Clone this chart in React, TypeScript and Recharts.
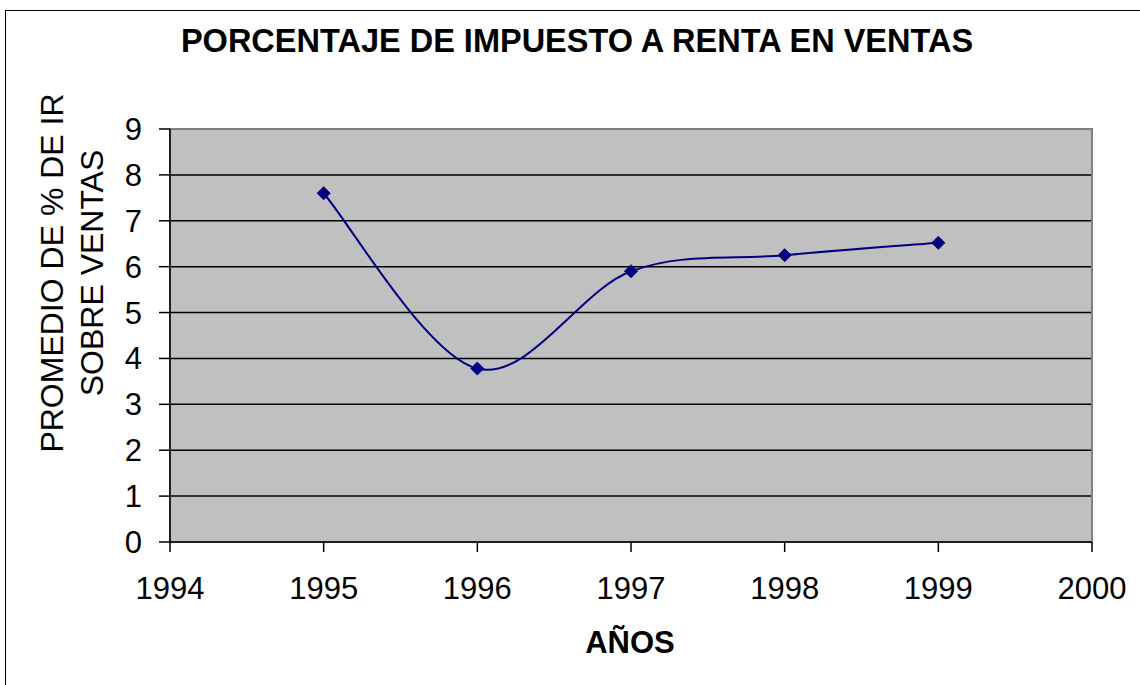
import {
  CartesianGrid,
  Line,
  LineChart,
  ReferenceArea,
  XAxis,
  YAxis,
} from 'recharts'

const YEARS = [1995, 1996, 1997, 1998, 1999]
const PERCENT_IR = [7.6, 3.78, 5.9, 6.25, 6.52]
const X_TICKS = [1994, 1995, 1996, 1997, 1998, 1999, 2000]
const Y_TICKS = [0, 1, 2, 3, 4, 5, 6, 7, 8, 9]
const GRID_VALUES = [1, 2, 3, 4, 5, 6, 7, 8]

const data = YEARS.map((year, i) => ({ year, value: PERCENT_IR[i] }))

const FONT = '"Liberation Sans", Arial, sans-serif'
const NAVY = '#000080'

// Excel-like smoothed line: cubic bezier through every point (Catmull-Rom tangents)
function excelSmooth(context: any) {
  let pts: [number, number][] = []
  return {
    areaStart() {},
    areaEnd() {},
    lineStart() {
      pts = []
    },
    point(x: number, y: number) {
      pts.push([+x, +y])
    },
    lineEnd() {
      if (!pts.length) return
      context.moveTo(pts[0][0], pts[0][1])
      for (let i = 0; i < pts.length - 1; i++) {
        const p0 = pts[i - 1] || pts[i]
        const p1 = pts[i]
        const p2 = pts[i + 1]
        const p3 = pts[i + 2] || p2
        context.bezierCurveTo(
          p1[0] + (p2[0] - p0[0]) / 6,
          p1[1] + (p2[1] - p0[1]) / 6,
          p2[0] - (p3[0] - p1[0]) / 6,
          p2[1] - (p3[1] - p1[1]) / 6,
          p2[0],
          p2[1],
        )
      }
    },
  }
}

function Diamond(props: any) {
  const { cx, cy, index } = props
  const r = 6.5
  return (
    <path
      key={`dot-${index}`}
      d={`M${cx},${cy - r}L${cx + r},${cy}L${cx},${cy + r}L${cx - r},${cy}Z`}
      fill={NAVY}
      stroke={NAVY}
    />
  )
}

export default function App() {
  const tick = { fontSize: 31, fill: '#000', fontFamily: FONT }
  return (
    <div
      style={{
        position: 'absolute',
        left: 0,
        top: 0,
        width: 1140,
        height: 685,
        overflow: 'hidden',
        background: '#fff',
      }}
    >
      <div
        style={{
          position: 'absolute',
          left: 5,
          top: 10,
          width: 1300,
          height: 900,
          border: '1px solid #000',
        }}
      />
      <div style={{ position: 'absolute', left: 0, top: 0 }}>
        <LineChart
          width={1140}
          height={685}
          data={data}
          margin={{ top: 129, right: 48, left: 90, bottom: 63 }}
        >
          <CartesianGrid
            vertical={false}
            horizontalValues={GRID_VALUES}
            stroke="#000"
            strokeWidth={1.5}
            fill="#C0C0C0"
            fillOpacity={1}
          />
          <ReferenceArea
            x1={1994}
            x2={2000}
            y1={0}
            y2={9}
            fill="none"
            stroke="#808080"
            strokeWidth={2}
          />
          <XAxis
            dataKey="year"
            type="number"
            domain={[1994, 2000]}
            ticks={X_TICKS}
            interval={0}
            height={80}
            tickSize={10}
            tickMargin={25}
            stroke="#000"
            strokeWidth={1.5}
            tick={tick}
          />
          <YAxis
            type="number"
            domain={[0, 9]}
            ticks={Y_TICKS}
            interval={0}
            width={80}
            tickSize={11}
            tickMargin={17}
            stroke="#000"
            strokeWidth={1.5}
            tick={tick}
          />
          <Line
            dataKey="value"
            type={excelSmooth as any}
            stroke={NAVY}
            strokeWidth={2}
            dot={Diamond}
            activeDot={false}
            isAnimationActive={false}
          />
        </LineChart>
      </div>
      <svg
        width={1140}
        height={685}
        style={{ position: 'absolute', left: 0, top: 0, pointerEvents: 'none' }}
      >
        <text
          x={577}
          y={52}
          textAnchor="middle"
          fontFamily={FONT}
          fontWeight="bold"
          fontSize={32.5}
        >
          PORCENTAJE DE IMPUESTO A RENTA EN VENTAS
        </text>
        <text
          x={630}
          y={653}
          textAnchor="middle"
          fontFamily={FONT}
          fontWeight="bold"
          fontSize={31}
        >
          AÑOS
        </text>
        <text
          transform="translate(63,273) rotate(-90)"
          textAnchor="middle"
          fontFamily={FONT}
          fontSize={32}
        >
          PROMEDIO DE % DE IR
        </text>
        <text
          transform="translate(103,273) rotate(-90)"
          textAnchor="middle"
          fontFamily={FONT}
          fontSize={32}
        >
          SOBRE VENTAS
        </text>
      </svg>
    </div>
  )
}
